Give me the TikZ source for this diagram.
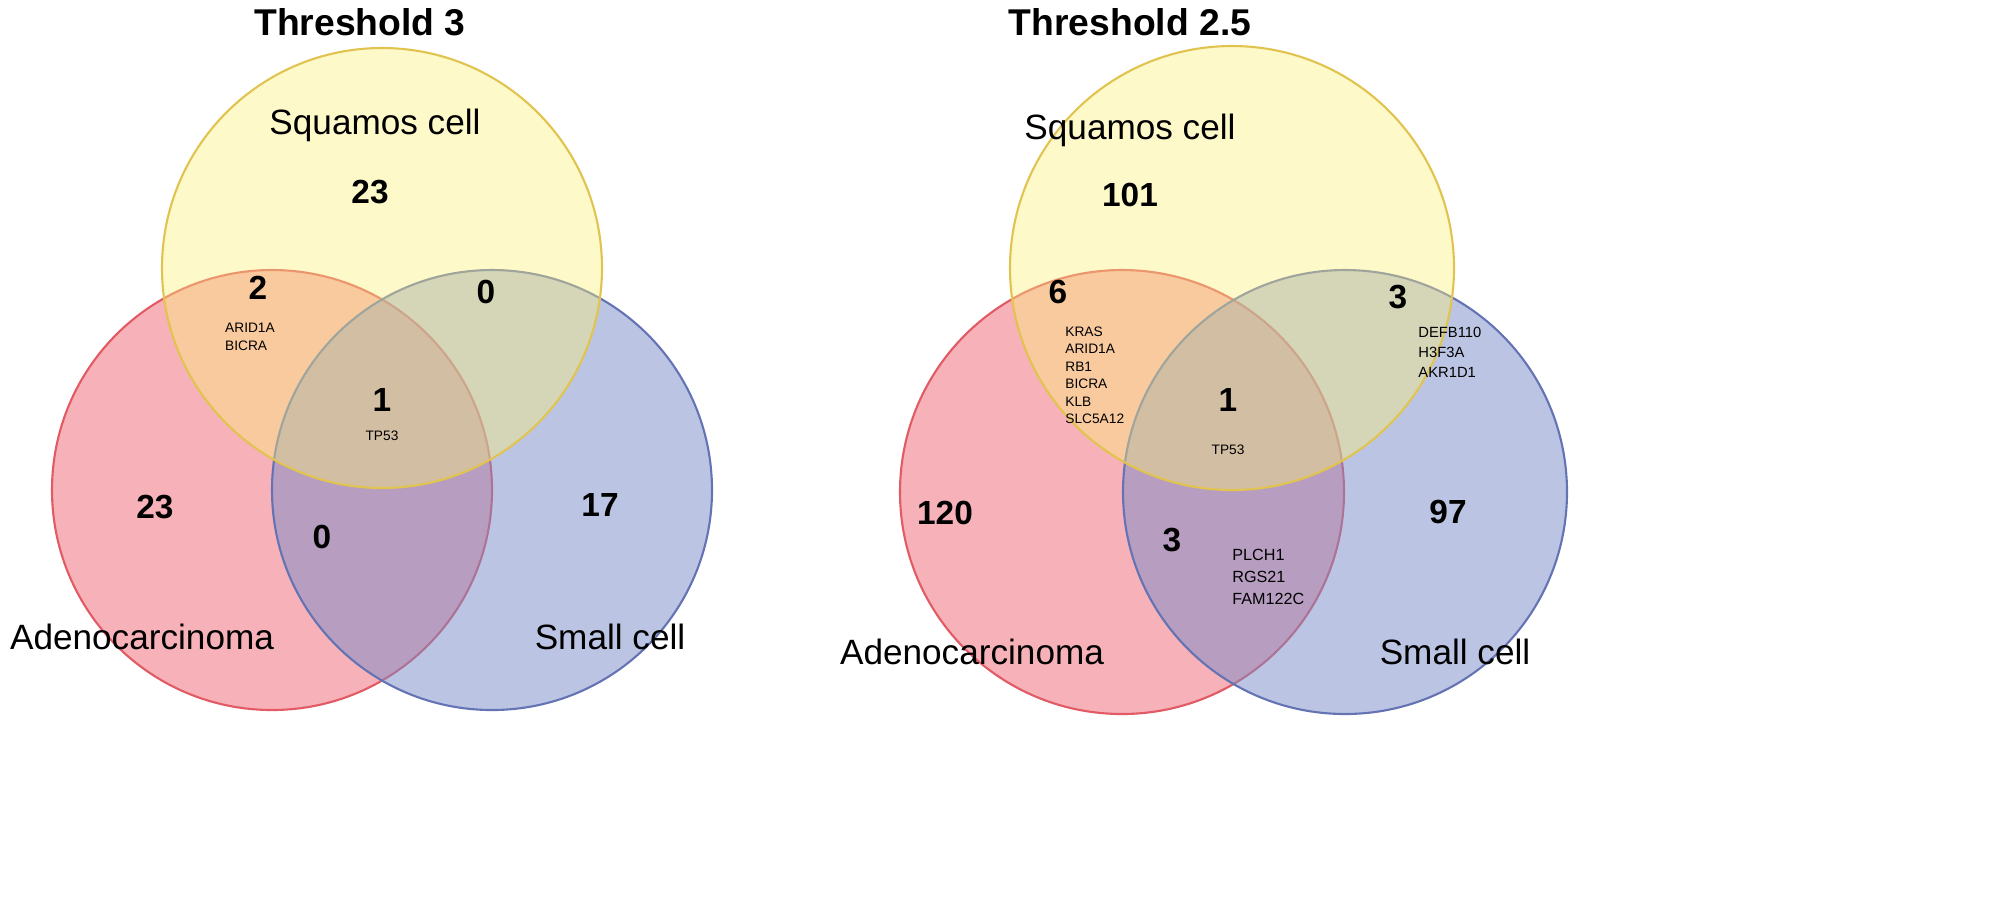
\documentclass[tikz,border=0pt]{standalone}
\usepackage{fontspec}
\setmainfont{Liberation Sans}
\begin{document}
\begin{tikzpicture}[x=0.01cm,y=-0.01cm]
\useasboundingbox (0,0) rectangle (2000,923);
\definecolor{yf}{RGB}{252,240,120}\definecolor{ye}{RGB}{225,195,80}
\definecolor{rf}{RGB}{238,100,115}\definecolor{re}{RGB}{225,90,100}
\definecolor{bf}{RGB}{120,140,200}\definecolor{be}{RGB}{100,115,180}
\tikzset{title/.style={font=\fontsize{10.6}{12}\selectfont\bfseries},
 num/.style={font=\fontsize{9.5}{10}\selectfont\bfseries},
 lab/.style={font=\fontsize{10}{11}\selectfont},
 gene/.style={font=\fontsize{3.9}{5}\selectfont,align=left},
 yc/.style={fill=yf,fill opacity=0.4,draw=ye,line width=0.6pt},
 rc/.style={fill=rf,fill opacity=0.5,draw=re,line width=0.6pt},
 bc/.style={fill=bf,fill opacity=0.5,draw=be,line width=0.6pt}}
% left
\draw[rc] (272,490) circle (220);
\draw[bc] (492,490) circle (220);
\draw[yc] (382,268) circle (220);
\node[title] (t1) at (360,22) {Threshold 3};
\node[lab] (s1) at (375,125) {Squamos cell};
\node[num] (n1) at (370,192) {23};
\node[num] (n2) at (258,288) {2};
\node[gene] (g1) at (250,337) {ARID1A\\BICRA};
\node[num] (n3) at (486,292) {0};
\node[num] (n4) at (382,400) {1};
\node[gene] (g2) at (382,436) {TP53};
\node[num] (n5) at (155,507) {23};
\node[num] (n6) at (322,537) {0};
\node[num] (n7) at (600,505) {17};
\node[lab] (a1) at (142,637) {Adenocarcinoma};
\node[lab] (b1) at (610,637) {Small cell};
% right
\draw[rc] (1122,492) circle (222);
\draw[bc] (1345,492) circle (222);
\draw[yc] (1232,268) circle (222);
\node[title] (t2) at (1130,22) {Threshold 2.5};
\node[lab] (s2) at (1130,130) {Squamos cell};
\node[num] (m1) at (1130,195) {101};
\node[num] (m2) at (1058,292) {6};
\node[gene,anchor=north west] (h1) at (1053,314) {KRAS\\ARID1A\\RB1\\BICRA\\KLB\\SLC5A12};
\node[num] (m3) at (1398,297) {3};
\node[gene,anchor=north west,font=\fontsize{4.2}{5.7}\selectfont] (h2) at (1406,315) {DEFB110\\H3F3A\\AKR1D1};
\node[num] (m4) at (1228,400) {1};
\node[gene] (h3) at (1228,450) {TP53};
\node[num] (m5) at (945,513) {120};
\node[num] (m6) at (1448,512) {97};
\node[num] (m7) at (1172,540) {3};
\node[gene,anchor=north west,font=\fontsize{4.6}{6.2}\selectfont] (h4) at (1220,537) {PLCH1\\RGS21\\FAM122C};
\node[lab] (a2) at (972,652) {Adenocarcinoma};
\node[lab] (b2) at (1455,652) {Small cell};
\end{tikzpicture}
\end{document}
